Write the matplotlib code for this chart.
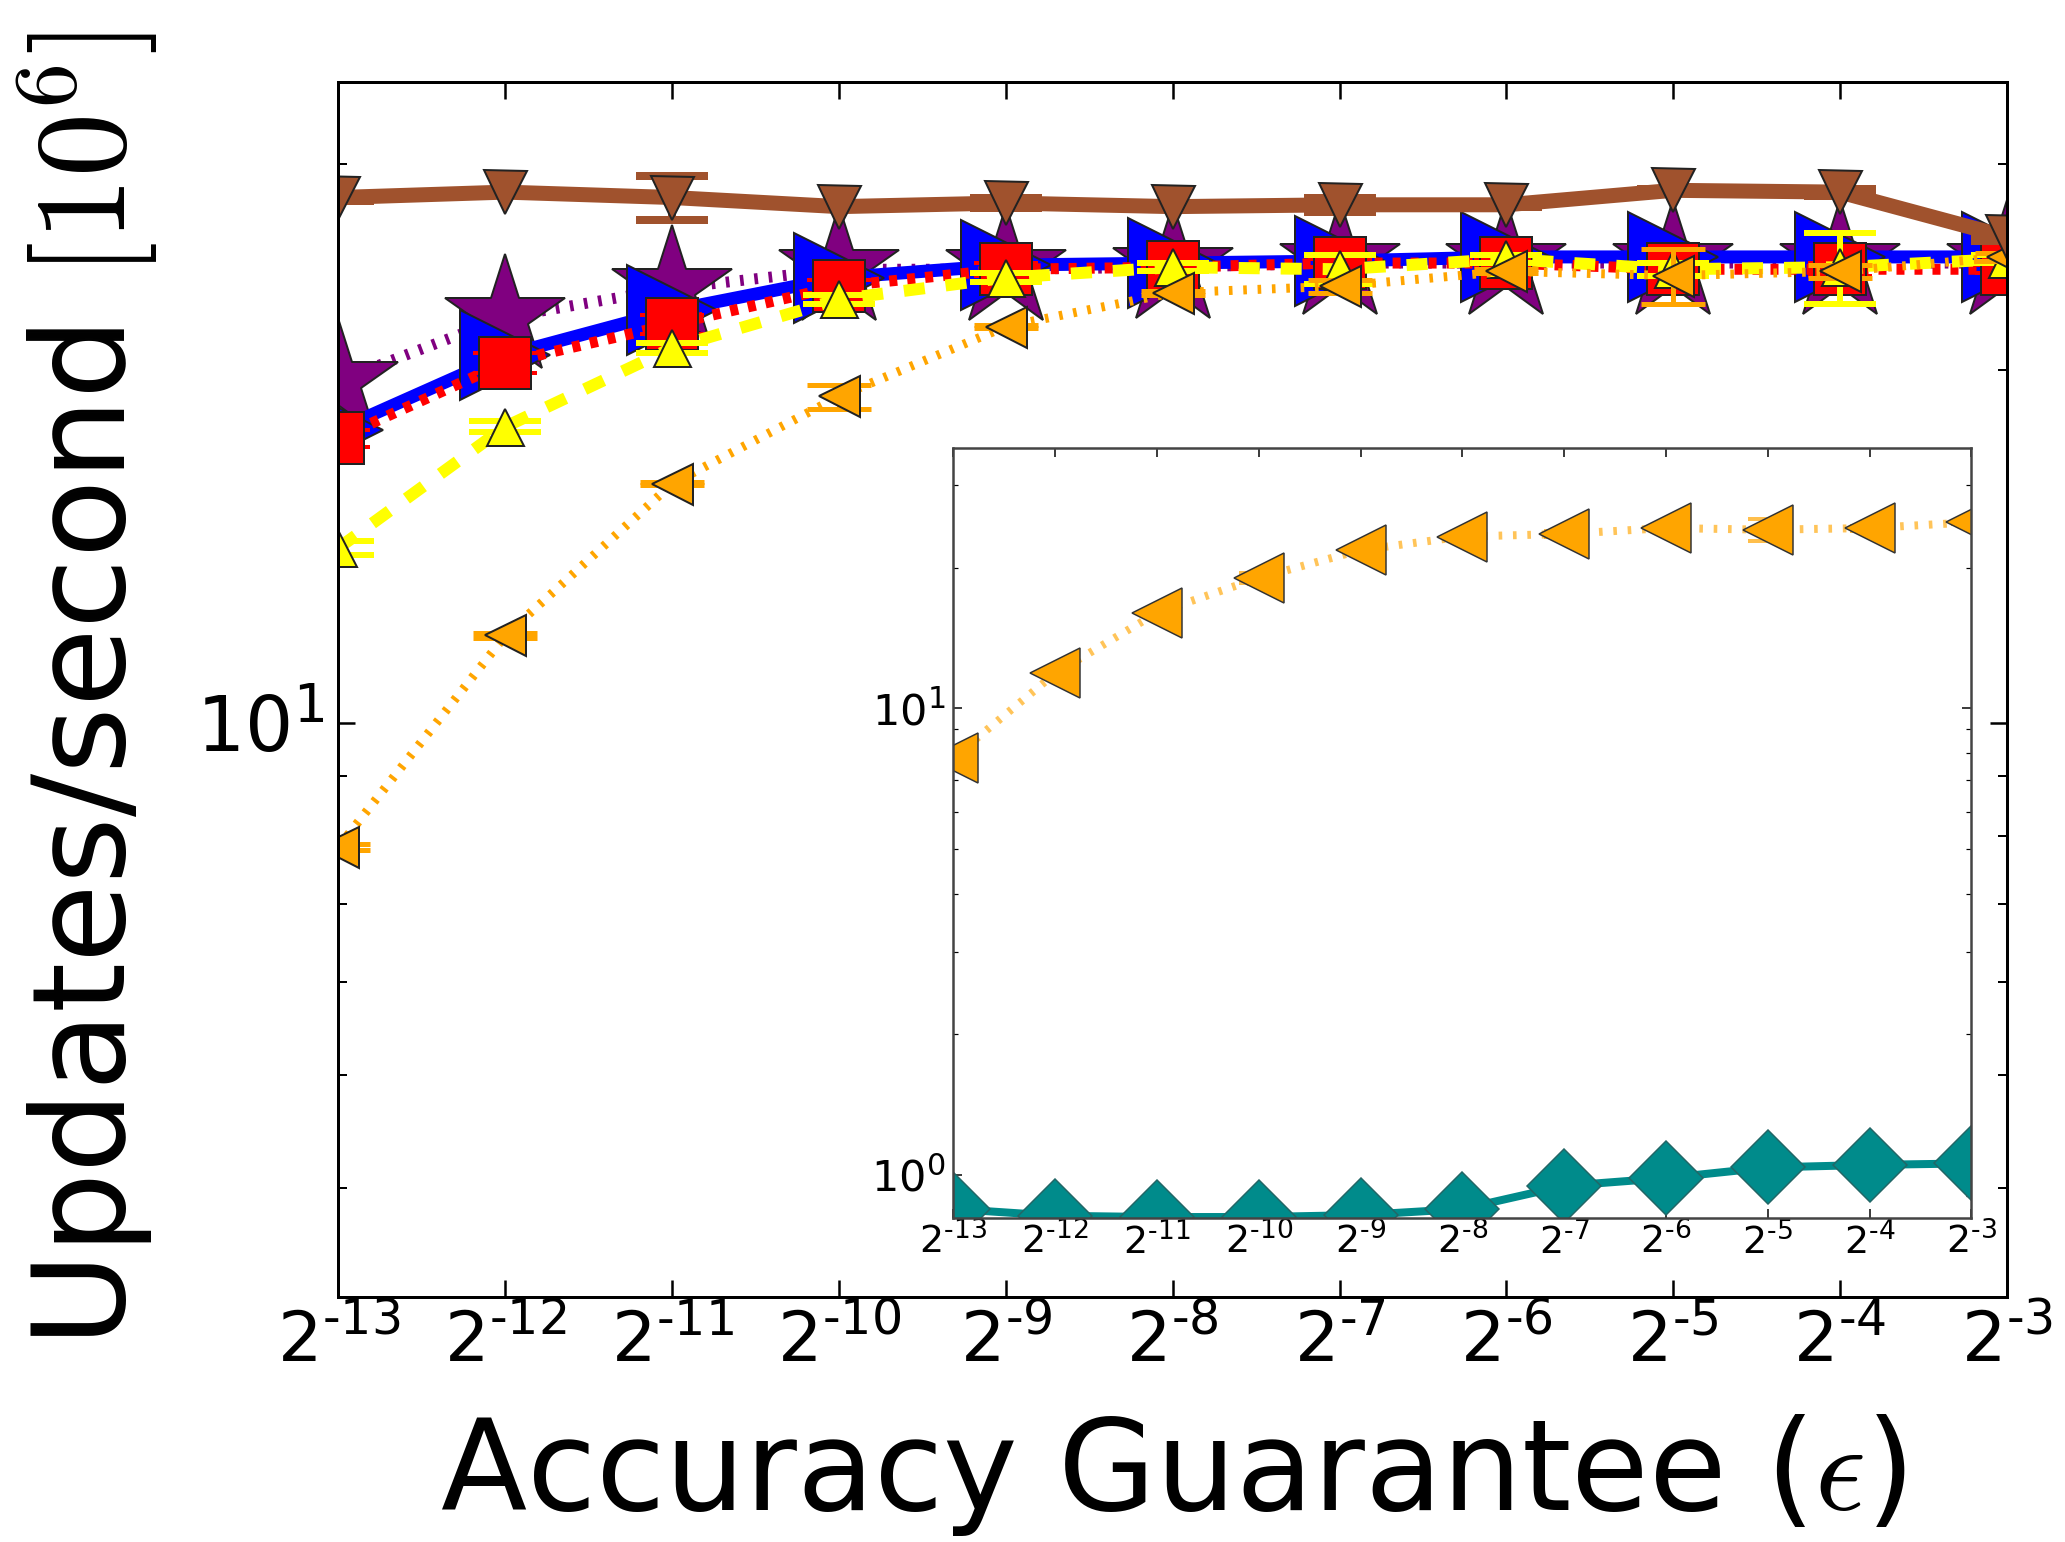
import numpy as np
import matplotlib
matplotlib.use('Agg')
import matplotlib.pyplot as plt
from matplotlib.ticker import NullLocator, LogLocator, NullFormatter

plt.rcParams['mathtext.fontset'] = 'cm'
plt.rcParams['font.family'] = 'DejaVu Sans'
plt.rcParams['lines.scale_dashes'] = False

# x axis: accuracy guarantee eps = 2^k
exps = list(range(-13, -2))
eps = [2.0 ** k for k in exps]
# short hyphen in the exponent, like the original
xtick_labels = ['$\\mathdefault{2^{\u2010%d}}$' % (-k) for k in exps]

# main panel series (updates/second, 10^6)
brown = [28.1, 28.4, 28.1, 27.6, 27.8, 27.6, 27.7, 27.7, 28.5, 28.4, 26.0]
brown_err = [0.2, 0.1, 1.2, 0.1, 0.3, 0.1, 0.4, 0.1, 0.1, 0.2, 0.2]
purple = [19.6, 22.2, 23.5, 24.4, 24.4, 24.5, 24.7, 24.7, 24.7, 24.7, 24.7]
blue = [17.8, 20.6, 22.5, 24.0, 24.6, 24.7, 24.8, 25.0, 25.0, 25.0, 25.0]
red = [17.5, 20.3, 21.9, 23.6, 24.4, 24.5, 24.7, 24.7, 24.4, 24.4, 24.4]
red_err = [0.3, 0.4, 0.4, 0.3, 0.3, 0.2, 0.2, 0.2, 0.3, 0.3, 0.2]
yellow = [14.1, 17.9, 20.9, 23.0, 24.0, 24.5, 24.4, 24.9, 24.4, 24.5, 24.9]
yellow_err = [0.2, 0.2, 0.2, 0.2, 0.2, 0.2, 0.7, 0.2, 0.3, 1.7, 0.2]
orange = [7.83, 11.87, 16.0, 19.0, 21.8, 23.3, 23.6, 24.3, 24.1, 24.3, 25.0]
orange_err = [0.05, 0.05, 0.05, 0.45, 0.05, 0.1, 0.3, 0.1, 1.3, 0.3, 0.2]

# inset only series
teal = [0.845, 0.817, 0.812, 0.812, 0.82, 0.845, 0.947, 0.984, 1.037, 1.05, 1.058]

DOT = (3.6, 10.75)
DASH = (21, 21)

fig = plt.figure(figsize=(2065 / 72, 1542 / 72), dpi=72)
ax = fig.add_axes([0.1639, 0.1589, 0.9719 - 0.1639, 0.9471 - 0.1589])


def series(a, y, err, color, marker, ms, lw, dashes=None, cap=32, elw=4):
    if err is not None:
        a.errorbar(eps, y, yerr=err, fmt='none', ecolor=color, elinewidth=elw,
                   capsize=cap, capthick=elw)
    kw = dict(color=color, lw=lw, marker=marker, ms=ms, mfc=color, mec='#222222', mew=2)
    if dashes is not None:
        kw['dashes'] = dashes
    a.plot(eps, y, **kw)


series(ax, purple, None, '#800080', '*', 126, 11, DOT)
series(ax, blue, None, '#0000FF', '>', 90, 13)
series(ax, red, red_err, '#FF0000', 's', 52, 11, (8, 10), elw=4)
series(ax, yellow, yellow_err, '#FFFF00', '^', 37, 12, DASH, cap=36, elw=6)
series(ax, orange, orange_err, '#FFA500', '<', 41, 9, DOT, cap=32, elw=5)
series(ax, brown, brown_err, '#A0522D', 'v', 43, 15, None, cap=36, elw=8)

ax.set_xscale('log', base=2)
ax.set_yscale('log')
ax.set_xlim(eps[0], eps[-1])
ax.set_ylim(3.23, 35.3)
ax.set_xticks(eps, labels=xtick_labels)
ax.xaxis.set_minor_locator(NullLocator())
ax.yaxis.set_minor_locator(LogLocator(base=10, subs=np.arange(2, 10)))
ax.yaxis.set_minor_formatter(NullFormatter())
ax.tick_params(which='both', direction='in', top=True, right=True)
ax.tick_params(which='major', length=17, width=2.5)
ax.tick_params(which='minor', length=9, width=2)
ax.tick_params(axis='x', labelsize=70, pad=12)
ax.tick_params(axis='y', labelsize=76, pad=14)
for s in ax.spines.values():
    s.set_linewidth(3)

ax.set_xlabel(r'Accuracy Guarantee ($\epsilon$)', fontsize=126, labelpad=36)
ax.set_ylabel(r'Updates/second $[10^6]$', fontsize=128, labelpad=36)

# inset
axi = fig.add_axes([0.4617, 0.2101, 0.9547 - 0.4617, 0.7096 - 0.2101])
axi.errorbar(eps, orange, yerr=orange_err, fmt='none', ecolor='#FFA500',
             elinewidth=4, capsize=20, capthick=4, alpha=0.7)
axi.plot(eps, orange, color='#FFA500', lw=8, dashes=DOT, alpha=0.65)
axi.plot(eps, orange, ls='none', marker='<', ms=50,
         mfc='#FFA500', mec='#333333', mew=1.5)
axi.plot(eps, teal, color='#008B8B', lw=8)
axi.plot(eps, teal, ls='none', marker='D', ms=53, mfc='#008B8B',
         mec='#226666', mew=1.5)

axi.set_xscale('log', base=2)
axi.set_yscale('log')
axi.set_xlim(eps[0], eps[-1])
axi.set_ylim(0.808, 36.1)
axi.set_xticks(eps, labels=xtick_labels)
axi.xaxis.set_minor_locator(NullLocator())
axi.yaxis.set_minor_locator(LogLocator(base=10, subs=np.arange(2, 10)))
axi.yaxis.set_minor_formatter(NullFormatter())
axi.tick_params(which='both', direction='in', top=True, right=True)
axi.tick_params(which='major', length=9, width=1.5)
axi.tick_params(which='minor', length=5, width=1.2)
axi.tick_params(axis='x', labelsize=38, pad=4)
axi.tick_params(axis='y', labelsize=43, pad=8)
for s in axi.spines.values():
    s.set_linewidth(2.5)
    s.set_color('#444444')

fig.savefig('out.png', dpi=72)
